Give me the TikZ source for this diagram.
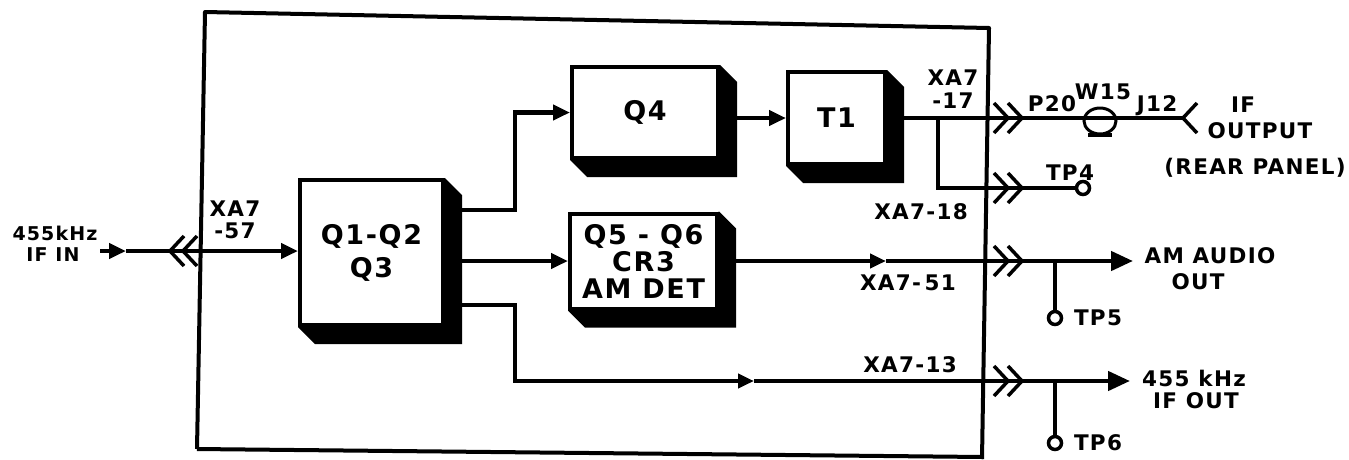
\documentclass[tikz,border=0pt]{standalone}
\usepackage{fontspec}
\newfontfamily\lblfont{DejaVu Sans}[LetterSpace=6]
\usetikzlibrary{arrows.meta,backgrounds,shapes.geometric,calc}
\tikzset{
  wire/.style={line width=4.5pt},
  sig/.style={wire,-{Triangle[length=17pt,width=15pt]}},
  midsig/.style={wire,-{Triangle[length=16pt,width=14pt]}},
  endsig/.style={wire,-{Triangle[length=22pt,width=19pt]}},
  blk/.style={draw,fill=white,line width=4pt,align=center,inner sep=0pt,
    font=\lblfont\bfseries\fontsize{27}{27}\selectfont},
  lbl/.style={inner sep=0pt,font=\lblfont\bfseries\fontsize{21.5}{22}\selectfont},
  slbl/.style={inner sep=0pt,font=\lblfont\bfseries\fontsize{19}{20}\selectfont},
  tpt/.style={circle,draw,line width=3.5pt,minimum size=13pt,inner sep=0pt,fill=white},
  chevR/.pic={\draw[line width=3.5pt] (-14,-15) -- (0,0) -- (-14,15);},
  chevL/.pic={\draw[line width=3.5pt] (14,-15) -- (0,0) -- (14,15);}
}
\begin{document}
\begin{tikzpicture}[x=1pt,y=-1pt]
\useasboundingbox (0,0) rectangle (1349,459);

% outer board outline
\draw[line width=4pt,line join=round] (197,449) -- (205,12) -- (989,28) -- (982,459);
\draw[line width=4pt] (197,449) -- (983,457);

% blocks
\node[blk,minimum width=143pt,minimum height=145pt] (q1) at (371.5,252.5)
  {Q1-Q2\\[6pt]Q3};
\node[blk,minimum width=146pt,minimum height=91pt] (q4) at (645,112.5) {Q4};
\node[blk,minimum width=97pt,minimum height=92pt] (t1) at (836.5,118) {T1};
\node[blk,minimum width=147pt,minimum height=95pt] (q5) at (643.5,261)
  {Q5 - Q6\\CR3\\AM DET};

\begin{scope}[on background layer]
\foreach \n in {q1,q4,t1,q5}
  \fill (\n.north east) -- ++(17,17) |- ($(\n.south west)+(17,17)$) -- (\n.south west) -- cycle;
\end{scope}

% input
\coordinate (inL) at (100,251);
\coordinate (inM) at (126,251);
\draw[sig] (inL) -- (inM);
\draw[sig] (inM) -- (q1.west |- inM);
\pic at (170,251) {chevL};
\pic at (183,251) {chevL};

% Q1 -> Q4
\coordinate (b1) at (515,210);
\draw[sig] (q1.east |- b1) -- (b1) |- (q4.west);
% Q1 -> Q5
\draw[sig] (q1.east |- q5.west) -- (q5.west);
% Q1 -> 455 kHz IF out
\coordinate (b3) at (515,305);
\coordinate (b3d) at (515,381);
\coordinate (m3) at (754,381);
\coordinate (o3) at (1130,381);
\draw[midsig] (q1.east |- b3) -- (b3) -- (b3d) -- (m3);
\draw[endsig] (m3) -- (o3);
\pic at (1008,381) {chevR};
\pic at (1022,381) {chevR};
\coordinate (tap6) at (1055,381);
\node[tpt] (tp6) at (1055,443) {};
\draw[wire] (tap6) -- (tp6);

% Q5 -> AM audio out
\coordinate (m2) at (886,261);
\coordinate (o2) at (1133,261);
\draw[midsig] (q5.east) -- (m2);
\draw[endsig] (m2) -- (o2);
\pic at (1008,261) {chevR};
\pic at (1022,261) {chevR};
\coordinate (tap5) at (1055,261);
\node[tpt] (tp5) at (1055,318) {};
\draw[wire] (tap5) -- (tp5);

% Q4 -> T1 -> IF output
\draw[sig] (q4.east |- t1.west) -- (t1.west);
\coordinate (j12) at (1183,118);
\draw[wire] (t1.east) -- (j12);
\pic at (1008,118) {chevR};
\pic at (1022,118) {chevR};
\pic at (j12) {chevL};
\node[ellipse,draw,line width=3pt,minimum width=32pt,minimum height=26pt,inner sep=0pt] (w15) at (1100,121) {};
\draw[line width=4pt] ($(w15.south)+(-12,-1)$) -- ($(w15.south)+(12,-1)$);

% TP4
\coordinate (tap4) at (938,118);
\node[tpt] (tp4) at (1083,188) {};
\draw[wire] (tap4) |- (tp4);
\pic at (1008,188) {chevR};
\pic at (1022,188) {chevR};

% labels
\node[slbl] (l1) at (55,233) {455kHz};
\node[slbl] (l2) at (53,255) {IF IN};
\node[lbl] (l3) at (235,209) {XA7};
\node[lbl] (l4) at (235,231) {-57};
\node[lbl] (l5) at (953,78) {XA7};
\node[lbl] (l6) at (953,101) {-17};
\node[lbl] (l7) at (921,212) {XA7-18};
\node[lbl] (l8) at (908,283) {XA7-\,51};
\node[lbl] (l9) at (910,365) {XA7-13};
\node[lbl] (l10) at (1052,104) {P20};
\node[lbl] (l11) at (1103,92) {W15};
\node[lbl] (l12) at (1157,106) {J12};
\node[lbl] (l13) at (1243,105) {IF};
\node[lbl] (l14) at (1260,131) {OUTPUT};
\node[lbl] (l15) at (1255,168) {(REAR PANEL)};
\node[lbl] (l16) at (1070,173) {TP4};
\node[lbl] (l17) at (1098,318) {TP5};
\node[lbl] (l18) at (1098,443) {TP6};
\node[lbl] (l19) at (1210,256) {AM AUDIO};
\node[lbl] (l20) at (1198,282) {OUT};
\node[lbl] (l21) at (1194,378) {455 kHz};
\node[lbl] (l22) at (1196,401) {IF OUT};
\end{tikzpicture}
\end{document}
